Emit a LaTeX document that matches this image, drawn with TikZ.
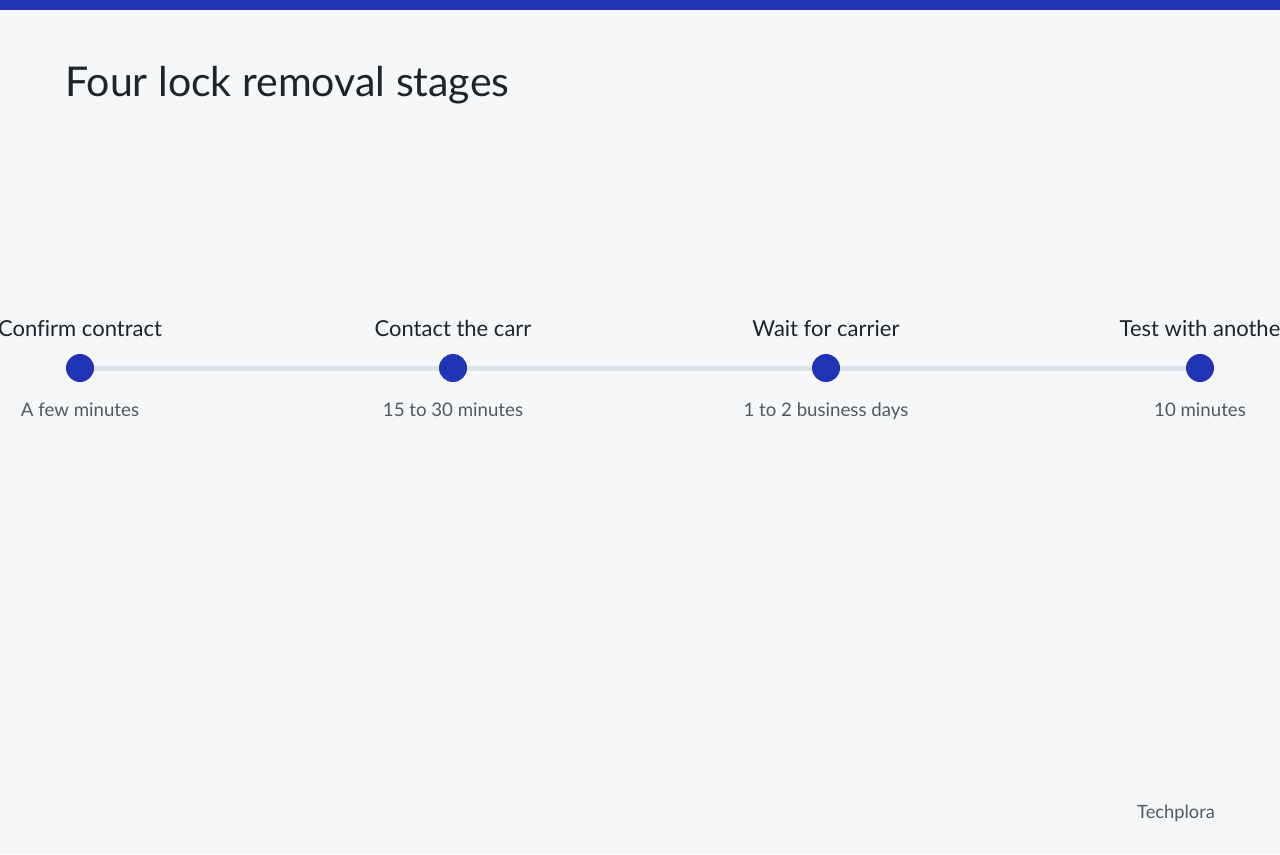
\documentclass[tikz,border=0pt]{standalone}
\usepackage{fontspec}
\setmainfont{Lato}[Ligatures=NoCommon]
\definecolor{bg}{HTML}{F5F7F9}
\definecolor{accent}{HTML}{2034B6}
\definecolor{track}{HTML}{DCE2E5}
\definecolor{ink}{HTML}{1C2527}
\definecolor{subink}{HTML}{4F5B5E}
\tikzset{
  stagedot/.style={circle, fill=accent, inner sep=0pt, minimum size=21pt},
  stagelabel/.style={anchor=base, text=ink, font=\fontsize{16.5pt}{20pt}\selectfont, inner sep=0pt},
  stagetime/.style={anchor=base, text=subink, font=\fontsize{14pt}{17pt}\selectfont, inner sep=0pt},
}
\begin{document}
\begin{tikzpicture}[x=0.75pt, y=-0.75pt]
\useasboundingbox (0,0) rectangle (1280,854);
\fill[bg] (0,0) rectangle (1280,854);
\fill[accent] (0,0) rectangle (1280,10);
\node[anchor=base west, text=ink, font=\fontsize{30.8pt}{37pt}\selectfont, inner sep=0pt] (title) at (65,96) {Four lock removal stages};
\node[stagedot] (d1) at (80,368) {};
\node[stagedot] (d2) at (453,368) {};
\node[stagedot] (d3) at (826,368) {};
\node[stagedot] (d4) at (1200,368) {};
\draw[track, line width=3.75pt] (d1.east) -- (d2.west);
\draw[track, line width=3.75pt] (d2.east) -- (d3.west);
\draw[track, line width=3.75pt] (d3.east) -- (d4.west);
\node[stagelabel] (l1) at (80,336) {Confirm contract};
\node[stagelabel] (l2) at (453,336) {Contact the carr};
\node[stagelabel] (l3) at (826,336) {Wait for carrier};
\node[stagelabel] (l4) at (1200,336) {Test with anothe};
\node[stagetime] (t1) at (80,416) {A few minutes};
\node[stagetime] (t2) at (453,416) {15 to 30 minutes};
\node[stagetime] (t3) at (826,416) {1 to 2 business days};
\node[stagetime] (t4) at (1200,416) {10 minutes};
\node[anchor=base, text=subink, font=\fontsize{13.7pt}{16pt}\selectfont, inner sep=0pt] (brand) at (1176,818) {Techplora};
\end{tikzpicture}
\end{document}
